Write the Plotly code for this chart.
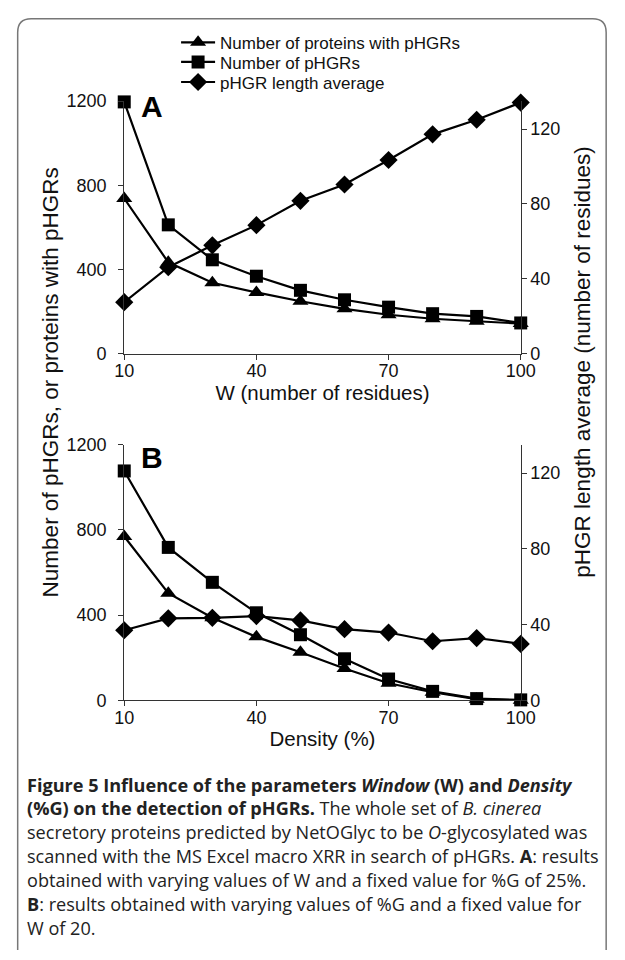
import plotly.graph_objects as go

# ---------------- data ----------------
W_values = [10, 20, 30, 40, 50, 60, 70, 80, 90, 100]
A_proteins = [737, 434, 337, 291, 249, 213, 185, 166, 154, 143]
A_phgrs = [1196, 612, 446, 368, 301, 256, 221, 190, 177, 146]
A_length = [27.5, 46.2, 57.9, 68.7, 81.7, 90.4, 103.5, 117.2, 125.0, 134.2]

density_values = [10, 20, 30, 40, 50, 60, 70, 80, 90, 100]
B_proteins = [769, 503, 388, 298, 226, 149, 80, 38, 5, 0]
B_phgrs = [1077, 718, 554, 411, 308, 195, 100, 42, 8, 2]
B_length = [37.0, 43.3, 43.6, 44.5, 42.2, 37.6, 35.8, 31.2, 32.9, 29.8]

x_ticks = [10, 40, 70, 100]
left_ticks = [0, 400, 800, 1200]
right_ticks = [0, 40, 80, 120]

series_names = ["Number of proteins with pHGRs", "Number of pHGRs", "pHGR length average"]
series_symbols = ["triangle-up", "square", "diamond"]
series_sizes = [14, 13, 14]

# ---------------- layout helpers ----------------
FW, FH = 625, 960
def px(x):
    return x / FW
def py(y):
    return 1 - y / FH

SANS = "Liberation Sans, Arial, sans-serif"
AX_FONT = dict(family=SANS, size=18, color="#111")
TITLE_FONT = dict(family=SANS, size=20.5, color="#111")
YTITLE_FONT = dict(family=SANS, size=22.5, color="#111")
AXCOL = "#333"

fig = go.Figure()

legend_ids = ["legend", "legend2", "legend3"]
panels = [
    ("x", "y", "y2", W_values, [A_proteins, A_phgrs, A_length], True),
    ("x2", "y3", "y4", density_values, [B_proteins, B_phgrs, B_length], False),
]
for xa, yl, yr, xs, ys, show in panels:
    for i in range(3):
        fig.add_trace(go.Scatter(
            x=xs, y=ys[i], name=series_names[i],
            mode="lines+markers",
            line=dict(color="black", width=2.2),
            marker=dict(symbol=series_symbols[i], size=series_sizes[i], color="black"),
            xaxis=xa, yaxis=(yr if i == 2 else yl),
            showlegend=show, legend=legend_ids[i], cliponaxis=False,
        ))

xcommon = dict(range=[10, 100], tickvals=x_ticks, ticks="outside", ticklen=5,
               tickcolor=AXCOL, showline=True, linecolor=AXCOL, linewidth=1,
               showgrid=False, zeroline=False, tickfont=AX_FONT, fixedrange=True,
               ticklabelstandoff=-4)
ylcommon = dict(range=[0, 1200], tickvals=left_ticks, ticks="outside", ticklen=5,
                tickcolor=AXCOL, showline=True, linecolor=AXCOL, linewidth=1,
                showgrid=False, zeroline=False, tickfont=AX_FONT, ticklabelstandoff=8)
yrcommon = dict(range=[0, 135], tickvals=right_ticks, ticks="outside", ticklen=5,
                tickcolor=AXCOL, showline=True, linecolor=AXCOL, linewidth=1,
                showgrid=False, zeroline=False, tickfont=AX_FONT, side="right")

LEG_FONT = dict(family=SANS, size=17, color="#111")
def leg(yc):
    return dict(x=px(173), y=py(yc), xanchor="left", yanchor="middle", font=LEG_FONT,
                bgcolor="rgba(0,0,0,0)", itemwidth=34)

xdom = [px(119), px(532)]
fig.update_layout(
    width=FW, height=FH,
    margin=dict(l=0, r=0, t=0, b=0),
    paper_bgcolor="white", plot_bgcolor="white",
    xaxis=dict(domain=xdom, anchor="y",
               title=dict(text="W (number of residues)", font=TITLE_FONT, standoff=4), **xcommon),
    yaxis=dict(domain=[py(351), py(93)], anchor="x", **ylcommon),
    yaxis2=dict(overlaying="y", anchor="x", **yrcommon),
    xaxis2=dict(domain=xdom, anchor="y3",
                title=dict(text="Density (%)", font=TITLE_FONT, standoff=4), **xcommon),
    yaxis3=dict(domain=[py(705), py(444)], anchor="x2", **ylcommon),
    yaxis4=dict(overlaying="y3", anchor="x2", **yrcommon),
    legend=leg(33.5), legend2=leg(53.5), legend3=leg(74),
    showlegend=True,
)

def note(text, x, y, font, **kw):
    d = dict(text=text, x=px(x), y=py(y), xref="paper", yref="paper",
             xanchor="center", yanchor="middle", showarrow=False, font=font)
    d.update(kw)
    return d

ann = []
ann.append(note("<b>A</b>", 148, 99, dict(family=SANS, size=30, color="black")))
ann.append(note("<b>B</b>", 148, 457, dict(family=SANS, size=30, color="black")))
ann.append(note("Number of pHGRs, or proteins with pHGRs", 42, 380, YTITLE_FONT, textangle=-90))
ann.append(note("pHGR length average (number of residues)", 596, 360, YTITLE_FONT, textangle=-90))

caption_lines = [
    "<b>Figure 5 Influence of the parameters <i>Window</i> (W) and <i>Density</i></b>",
    "<b>(%G) on the detection of pHGRs.</b> The whole set of <i>B. cinerea</i>",
    "secretory proteins predicted by NetOGlyc to be <i>O</i>-glycosylated was",
    "scanned with the MS Excel macro XRR in search of pHGRs. <b>A</b>: results",
    "obtained with varying values of W and a fixed value for %G of 25%.",
    "<b>B</b>: results obtained with varying values of %G and a fixed value for",
    "W of 20.",
]
CAP_FONT = dict(family="Open Sans, sans-serif", size=18.1, color="#222")
for k, line in enumerate(caption_lines):
    ann.append(note(line, 16, 791 + 24.4 * k, CAP_FONT, xanchor="left"))
fig.update_layout(annotations=ann)

# frame with rounded top corners
L, T, R, B, rr = 8, 9, 621, 960, 14
path = (f"M {px(L)},{py(B)} L {px(L)},{py(T + rr)} Q {px(L)},{py(T)} {px(L + rr)},{py(T)} "
        f"L {px(R - rr)},{py(T)} Q {px(R)},{py(T)} {px(R)},{py(T + rr)} L {px(R)},{py(B)}")
fig.add_shape(type="path", path=path, xref="paper", yref="paper",
              line=dict(color="#777", width=1.5))

fig.write_html("out.html", config={"displayModeBar": False},
               post_script="document.body.style.margin='0px';")
